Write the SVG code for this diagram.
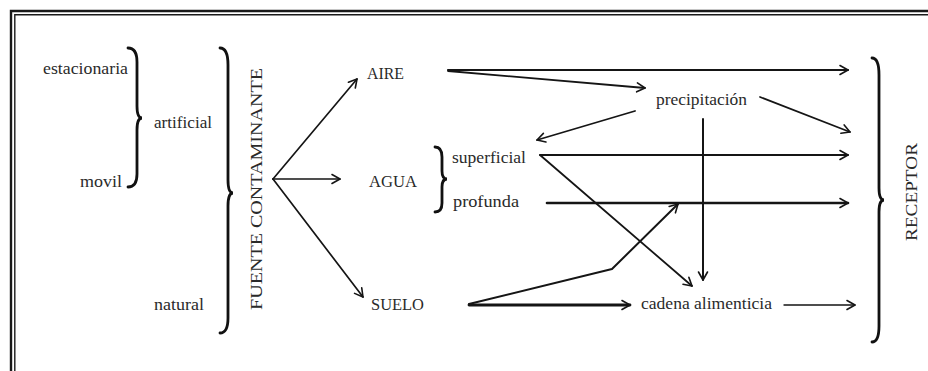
<svg xmlns="http://www.w3.org/2000/svg" width="928" height="371" viewBox="0 0 928 371">
<style>
text{font-family:"Liberation Serif","DejaVu Serif","Times New Roman",serif;font-size:17px;fill:#2a2a2a}
.ln{fill:none;stroke:#151515;stroke-linecap:round;stroke-linejoin:round}
.br{fill:none;stroke:#111;stroke-width:2.8;stroke-linecap:round}
.frame{stroke:#1a1a1a;fill:none}
</style>
<defs>
<marker id="ah" viewBox="-10 -6 12 12" markerWidth="12" markerHeight="12" refX="0" refY="0" orient="auto" markerUnits="userSpaceOnUse">
<path d="M-8,-4.5 L0,0 L-8,4.5" fill="none" stroke="#151515" stroke-width="1.6" stroke-linecap="round" stroke-linejoin="round"/>
</marker>
</defs>
<rect width="928" height="371" fill="#fff"/>
<g id="frame">
<path class="frame" d="M11,371 V11 H928" stroke-width="2.4"/>
<path class="frame" d="M14.8,371 V14.8 H928" stroke-width="1.4"/>
</g>
<g id="braces">
<path class="br" d="M128,48 Q137,48 137,62 L137,106 Q137,118 142,118 Q137,118 137,130 L137,174 Q137,187 128,187"/>
<path class="br" d="M220,48 Q228,48 228,65 L228,180 Q228,193 233,193 Q228,193 228,206 L228,318 Q228,333 220,333"/>
<path class="br" d="M435,147 Q442,147 442,157 L442,171 Q442,179 447,179 Q442,179 442,187 L442,203 Q442,212 435,212"/>
<path class="br" d="M872,58 Q879,58 879,75 L879,188 Q879,200 884,200 Q879,200 879,212 L879,326 Q879,342 872,342"/>
</g>
<g id="n-estacionaria"><text x="43" y="74" font-family="Liberation Serif, DejaVu Serif, serif" textLength="85" lengthAdjust="spacingAndGlyphs">estacionaria</text></g>
<g id="n-movil"><text x="80" y="187" font-family="Liberation Serif, DejaVu Serif, serif" textLength="42" lengthAdjust="spacingAndGlyphs">movil</text></g>
<g id="n-artificial"><text x="154" y="128" font-family="Liberation Serif, DejaVu Serif, serif" textLength="58" lengthAdjust="spacingAndGlyphs">artificial</text></g>
<g id="n-natural"><text x="154" y="310" font-family="Liberation Serif, DejaVu Serif, serif" textLength="50" lengthAdjust="spacingAndGlyphs">natural</text></g>
<g id="n-fuente"><text transform="translate(262,310) rotate(-90)" x="0" y="0" font-family="Liberation Serif, DejaVu Serif, serif" font-size="20" textLength="242" lengthAdjust="spacingAndGlyphs">FUENTE CONTAMINANTE</text></g>
<g id="n-aire"><text x="367" y="79" font-family="Liberation Serif, DejaVu Serif, serif" textLength="37" lengthAdjust="spacingAndGlyphs">AIRE</text></g>
<g id="n-agua"><text x="369" y="187" font-family="Liberation Serif, DejaVu Serif, serif" textLength="48" lengthAdjust="spacingAndGlyphs">AGUA</text></g>
<g id="n-suelo"><text x="371" y="310" font-family="Liberation Serif, DejaVu Serif, serif" textLength="53" lengthAdjust="spacingAndGlyphs">SUELO</text></g>
<g id="n-superficial"><text x="452" y="163" font-family="Liberation Serif, DejaVu Serif, serif" textLength="74" lengthAdjust="spacingAndGlyphs">superficial</text></g>
<g id="n-profunda"><text x="453" y="207" font-family="Liberation Serif, DejaVu Serif, serif" textLength="66" lengthAdjust="spacingAndGlyphs">profunda</text></g>
<g id="n-precipitacion"><text x="656" y="105" font-family="Liberation Serif, DejaVu Serif, serif" textLength="91" lengthAdjust="spacingAndGlyphs">precipitación</text></g>
<g id="n-cadena"><text x="641" y="309" font-family="Liberation Serif, DejaVu Serif, serif" textLength="131" lengthAdjust="spacingAndGlyphs">cadena alimenticia</text></g>
<g id="n-receptor"><text transform="translate(917,241) rotate(-90)" x="0" y="0" font-family="Liberation Serif, DejaVu Serif, serif" font-size="19" textLength="98" lengthAdjust="spacingAndGlyphs">RECEPTOR</text></g>
<g id="connectors">
<path class="ln" stroke-width="1.7" d="M273,179 L357,79" marker-end="url(#ah)"/>
<path class="ln" stroke-width="1.7" d="M273,179 L340,179" marker-end="url(#ah)"/>
<path class="ln" stroke-width="1.7" d="M273,179 L363,297" marker-end="url(#ah)"/>
<path class="ln" stroke-width="2.2" d="M448,70 L848,70" marker-end="url(#ah)"/>
<path class="ln" stroke-width="1.8" d="M448,71 L645,88" marker-end="url(#ah)"/>
<path class="ln" stroke-width="1.8" d="M635,111 L537,140" marker-end="url(#ah)"/>
<path class="ln" stroke-width="1.7" d="M760,97 L850,132" marker-end="url(#ah)"/>
<path class="ln" stroke-width="2" d="M703,119 L703,280" marker-end="url(#ah)"/>
<path class="ln" stroke-width="2" d="M540,155 L848,155" marker-end="url(#ah)"/>
<path class="ln" stroke-width="1.8" d="M540,155 L692,286" marker-end="url(#ah)"/>
<path class="ln" stroke-width="2.6" d="M547,203 L848,203" marker-end="url(#ah)"/>
<path class="ln" stroke-width="2" d="M469,304 L612,269 L678,204" marker-end="url(#ah)"/>
<path class="ln" stroke-width="2.8" d="M469,305 L630,305" marker-end="url(#ah)"/>
<path class="ln" stroke-width="1.4" d="M784,305 L855,305" marker-end="url(#ah)"/>
</g>
</svg>
